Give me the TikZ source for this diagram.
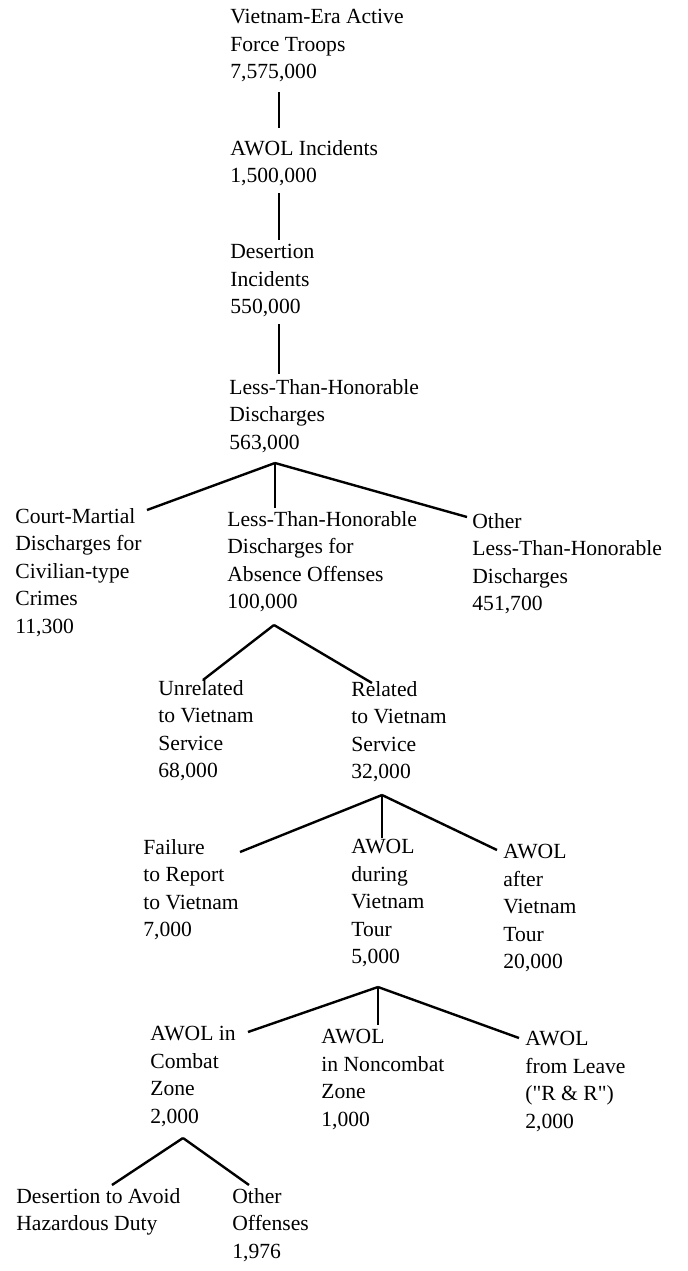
\documentclass[tikz,border=0pt]{standalone}
\usepackage{fontspec}
\setmainfont{Liberation Serif}
\usetikzlibrary{positioning}

\begin{document}
\begin{tikzpicture}[x=0.5pt,y=-0.5pt]
  \tikzset{box/.style={anchor=north west, align=left, inner sep=0pt,
      font=\fontsize{10.8}{13.8}\selectfont, execute at begin node=\strut},
    link/.style={line width=1.2pt}}
  \useasboundingbox (0,0) rectangle (687,1271);
    % Trunk
    \node [box] (vietnam-era) at (230,8.7) {Vietnam-Era Active\\Force Troops\\7,575,000};
    \node [box] (awol-incidents) at (230,139.7) {AWOL Incidents\\1,500,000};
    \node [box] (desertion-incidents) at (230,243.7) {Desertion\\Incidents\\550,000};
    \node [box] (lth-discharges) at (229,378.7) {Less-Than-Honorable\\Discharges\\563,000};
    % Discharge Row
    \node [box] (court-martial) at (15,507.7) {Court-Martial\\Discharges for\\Civilian-type\\Crimes\\11,300};
    \node [box] (absence-offenses) at (227,510.7) {Less-Than-Honorable\\Discharges for\\Absence Offenses\\100,000};
    \node [box] (other-lth) at (472,512.7) {Other\\Less-Than-Honorable\\Discharges\\451,700};
    % Vietnam Service Row
    \node [box] (unrelated) at (158,679.7) {Unrelated\\to Vietnam\\Service\\68,000};
    \node [box] (related) at (351,680.7) {Related\\to Vietnam\\Service\\32,000};
    % Related Row
    \node [box] (failure-report) at (143,838.7) {Failure\\to Report\\to Vietnam\\7,000};
    \node [box] (awol-during) at (351,838.7) {AWOL\\during\\Vietnam\\Tour\\5,000};
    \node [box] (awol-after) at (503,843.7) {AWOL\\after\\Vietnam\\Tour\\20,000};
    % During Tour Row
    \node [box] (awol-combat) at (150,1025.7) {AWOL in\\Combat\\Zone\\2,000};
    \node [box] (awol-noncombat) at (321,1028.7) {AWOL\\in Noncombat\\Zone\\1,000};
    \node [box] (awol-leave) at (525,1030.7) {AWOL\\from Leave\\(\textquotedbl R \& R\textquotedbl)\\2,000};
    % Combat Zone Row
    \node [box] (hazardous-duty) at (16,1187.7) {Desertion to Avoid\\Hazardous Duty};
    \node [box] (other-offenses) at (232,1187.7) {Other\\Offenses\\1,976};
    % Connectors
    \draw[link] ([shift={(49,83.3)}]vietnam-era.north west) -- ([shift={(49,-11.7)}]awol-incidents.north west);
    \draw[link] ([shift={(49,53.3)}]awol-incidents.north west) -- ([shift={(49,-3.7)}]desertion-incidents.north west);
    \draw[link] ([shift={(49,80.3)}]desertion-incidents.north west) -- ([shift={(50,-4.7)}]lth-discharges.north west);
    \coordinate (lth-fork) at ([shift={(46,84.3)}]lth-discharges.north west);
    \draw[link] (lth-fork) -- ([shift={(132,2.3)}]court-martial.north west);
    \draw[link] (lth-fork) -- ([shift={(48,-2.7)}]absence-offenses.north west);
    \draw[link] (lth-fork) -- ([shift={(-5,4.3)}]other-lth.north west);
    \coordinate (absence-fork) at ([shift={(47,114.3)}]absence-offenses.north west);
    \draw[link] (absence-fork) -- ([shift={(45,0.3)}]unrelated.north west);
    \draw[link] (absence-fork) -- ([shift={(21,2.3)}]related.north west);
    \coordinate (related-fork) at ([shift={(31,114.3)}]related.north west);
    \draw[link] (related-fork) -- ([shift={(97,13.3)}]failure-report.north west);
    \draw[link] (related-fork) -- ([shift={(31,-0.7)}]awol-during.north west);
    \draw[link] (related-fork) -- ([shift={(-6,6.3)}]awol-after.north west);
    \coordinate (during-fork) at ([shift={(27,148.3)}]awol-during.north west);
    \draw[link] (during-fork) -- ([shift={(98,6.3)}]awol-combat.north west);
    \draw[link] (during-fork) -- ([shift={(57,-3.7)}]awol-noncombat.north west);
    \draw[link] (during-fork) -- ([shift={(-6,7.3)}]awol-leave.north west);
    \coordinate (combat-fork) at ([shift={(33,112.3)}]awol-combat.north west);
    \draw[link] (combat-fork) -- ([shift={(96,-2.7)}]hazardous-duty.north west);
    \draw[link] (combat-fork) -- ([shift={(17,-2.7)}]other-offenses.north west);
  \end{tikzpicture}
\end{document}
